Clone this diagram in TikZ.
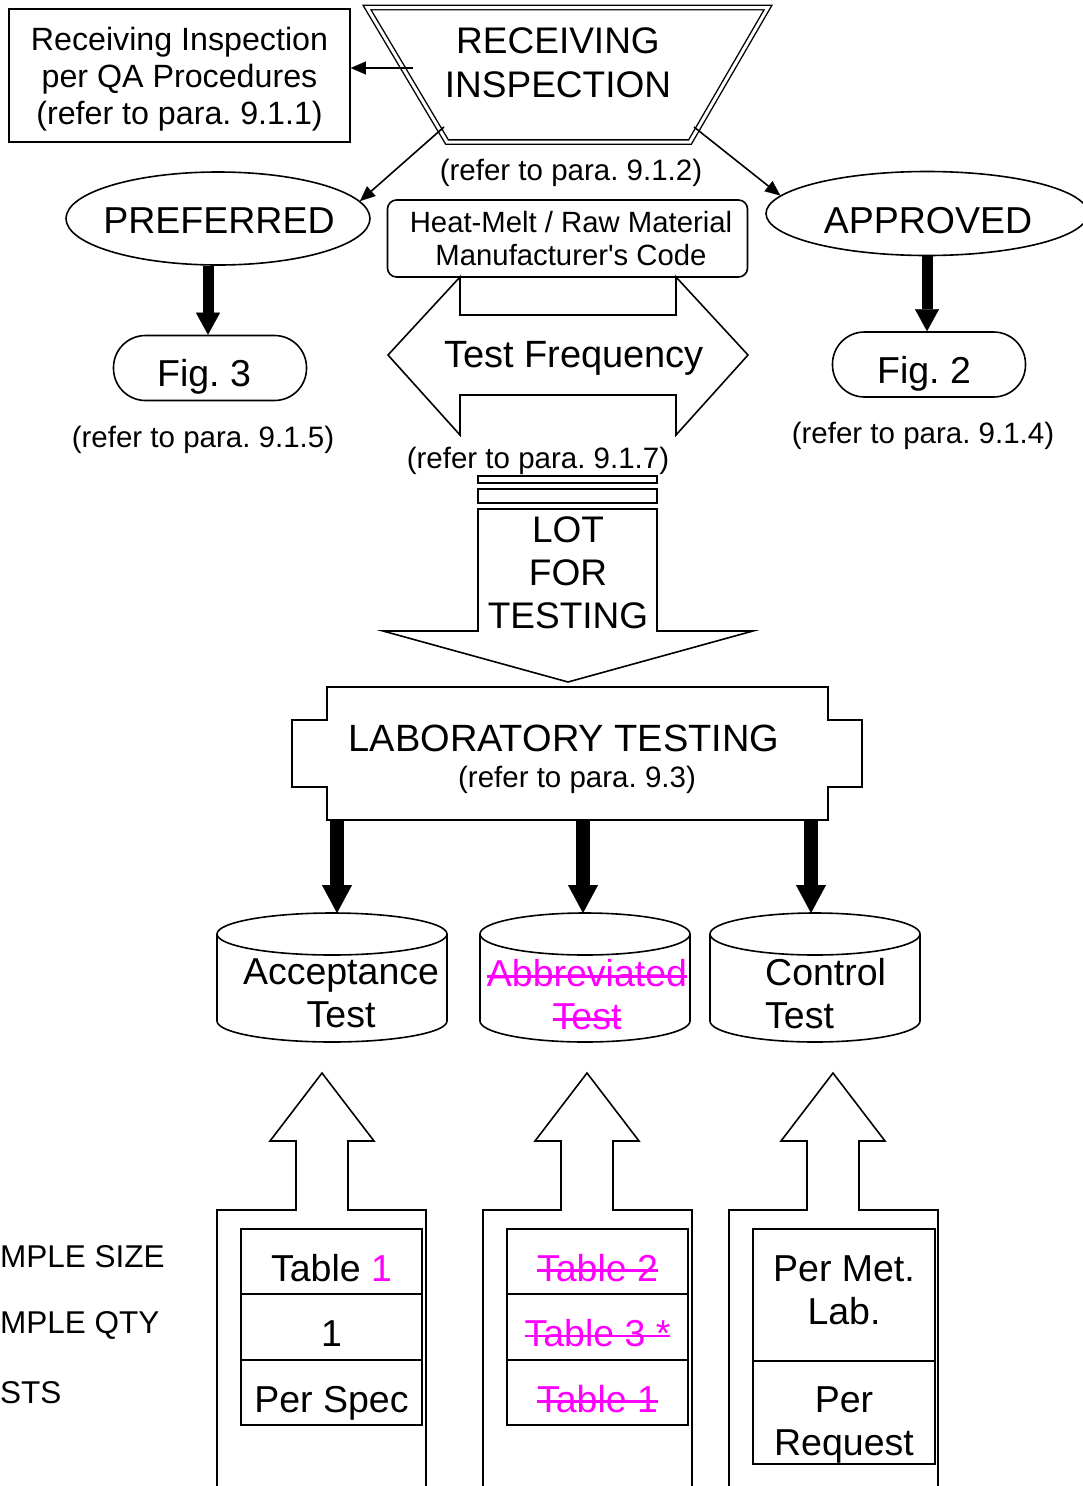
\documentclass[tikz,border=0pt]{standalone}
\usepackage{fontspec}
\setmainfont{Liberation Sans}
\usetikzlibrary{arrows.meta,shapes.geometric,positioning}

\definecolor{revmag}{RGB}{255,0,255}
\newlength{\strklen}
\newcommand{\struck}[1]{\textcolor{revmag}{\settowidth{\strklen}{#1}\rlap{#1}\rule[0.25em]{\strklen}{2.4pt}}}

\tikzset{
	outl/.style={line width=1.6pt},
	thinarrow/.style={line width=1.6pt,-{Triangle[length=15pt,width=13pt,line width=0.1pt]}},
	fatarrow/.style={line width=11pt,-{Triangle[length=22pt,width=24pt,line width=0.1pt]}},
	labarrow/.style={line width=14pt,-{Triangle[length=28pt,width=30pt,line width=0.1pt]}},
	fbig/.style={font=\fontsize{37.5}{43}\selectfont},
	fmid/.style={font=\fontsize{32.2}{37}\selectfont},
	fref/.style={font=\fontsize{29.5}{33}\selectfont},
	figbox/.style={draw,outl,rounded corners=32pt,minimum width=193pt,minimum height=65pt,fbig,text height=37pt,text depth=0pt},
	cell/.style={draw,line width=2.2pt,minimum width=181pt,minimum height=65.5pt,inner sep=0pt,fbig,text height=39pt,text depth=0pt},
}

\begin{document}
\frenchspacing
\begin{tikzpicture}[x=1pt,y=-1pt]
	\useasboundingbox (0,0) rectangle (1083,1486);
	% receiving inspection
	\draw [line width=1.4pt,double,double distance=3pt] (367,7.5) -- (768,7.5) -- (690,142) -- (447,142) -- cycle;
	\node [align=center,font=\fontsize{37}{44}\selectfont] (recv) at (558,63) {RECEIVING\\INSPECTION};
	\coordinate (recvw) at (413,68);
	\coordinate (recvsw) at (444,127);
	\coordinate (recvse) at (694,127);
	\node [draw,outl,minimum width=341pt,minimum height=133pt,align=center,fmid] (qa) at (179.5,75.5) {\rule{0pt}{31pt}Receiving Inspection\\per QA Procedures\\(refer to para. 9.1.1)};
	\draw [thinarrow] (recvw) -- (recvw -| qa.east);
	\node [fref] (ref912) at (571,173) {(refer to para. 9.1.2)};

	% preferred / approved
	\node [draw,outl,ellipse,minimum width=304pt,minimum height=93pt] (pref) at (218,218.5) {};
	\node [fbig,anchor=base] (preftxt) at (219,233) {PREFERRED};
	\node [draw,outl,ellipse,minimum width=322pt,minimum height=84pt] (appr) at (927,213.5) {};
	\node [fbig,anchor=base] (apprtxt) at (928,233) {APPROVED};
	\draw [thinarrow] (recvsw) -- (pref.7);
	\draw [thinarrow] (recvse) -- (appr.173);

	\node [figbox] (fig3) at (210,368) {Fig. 3\kern12pt};
	\node [figbox] (fig2) at (929,364.5) {Fig. 2\kern10pt};
	\draw [fatarrow] ([xshift=-10pt]pref.south) -- ([xshift=-2pt]fig3.north);
	\draw [fatarrow] (appr.south) -- (fig2.north -| appr.south);
	\node [fref] (ref915) at (203,440) {(refer to para. 9.1.5)};
	\node [fref] (ref914) at (923,436) {(refer to para. 9.1.4)};

	% heat-melt and test frequency
	\node [draw,outl,rounded corners=9pt,minimum width=360pt,minimum height=77pt,align=center,font=\fontsize{29.3}{33}\selectfont] (heat) at (567.5,238.5) {\hspace*{7pt}Heat-Melt / Raw Material\\\hspace*{7pt}Manufacturer\textquotesingle s Code};
	\draw [outl] (388,355) -- (460,277) -- (460,315) -- (676,315) -- (676,277) -- (748,355) -- (676,435) -- (676,395) -- (460,395) -- (460,435) -- cycle;
	\node [font=\fontsize{38}{44}\selectfont,anchor=base] (freq) at (574,367) {Test Frequency};
	\node [fref] (ref917) at (538,461) {(refer to para. 9.1.7)};

	% lot for testing
	\draw [outl] (478,476) rectangle (657,483);
	\draw [outl] (478,489) rectangle (657,503);
	\draw [outl] (478,509) -- (657,509) -- (657,631) -- (753,631) -- (568,682) -- (383,631) -- (478,631) -- cycle;
	\node [align=center,font=\fontsize{37}{43}\selectfont] (lot) at (568,573) {LOT\\FOR\\TESTING};

	% laboratory testing
	\draw [outl] (327,687) -- (828,687) -- (828,720) -- (862,720) -- (862,787) -- (828,787) -- (828,820) -- (327,820) -- (327,787) -- (292,787) -- (292,720) -- (327,720) -- cycle;
	\coordinate (labbot) at (577,820);
	\node [font=\fontsize{38}{44}\selectfont,anchor=base] (lab) at (564,751) {LABORATORY TESTING};
	\node [fref,anchor=base] (ref93) at (577,787) {(refer to para. 9.3)};

	% test cylinders
	\foreach \xl/\xc/\rx in {217/332/115, 480/585/105, 710/815/105} {
		\draw [outl] (\xl,934) -- (\xl,1021) arc [start angle=180,end angle=360,x radius=\rx pt,y radius=21pt] -- (\xl+2*\rx,934);
		\draw [outl] (\xc,934) ellipse [x radius=\rx pt,y radius=21pt];
	}
	\coordinate (acctop) at (337,913);
	\coordinate (abbtop) at (583,913);
	\coordinate (ctltop) at (811,913);
	\draw [labarrow] (labbot -| acctop) -- (acctop);
	\draw [labarrow] (labbot -| abbtop) -- (abbtop);
	\draw [labarrow] (labbot -| ctltop) -- (ctltop);
	\node [fbig,align=center] (acc) at (341,993) {Acceptance\\Test};
	\node [fbig,align=center] (abb) at (587,995) {\struck{Abbreviated}\\\struck{Test}};
	\node [fbig,align=left,anchor=west,inner sep=0pt] (ctl) at (765,994) {Control\\Test};

	% sample columns
	\foreach \xl/\t in {217/322, 483/587, 729/833} {
		\draw [outl] (\xl,1490) -- (\xl,1210) -- (\t-26,1210) -- (\t-26,1141) -- (\t-52,1141) -- (\t,1073) -- (\t+52,1141) -- (\t+26,1141) -- (\t+26,1210) -- (\xl+209,1210) -- (\xl+209,1490);
	}
	\node [cell] (accsize) at (331.5,1261.5) {Table \textcolor{revmag}{1}};
	\node [cell] (accqty) at (331.5,1327) {1};
	\node [cell] (acctests) at (331.5,1392.5) {Per Spec};
	\node [cell] (abbsize) at (597.5,1261.5) {\struck{Table 2}};
	\node [cell] (abbqty) at (597.5,1327) {\struck{Table 3 *}};
	\node [cell] (abbtests) at (597.5,1392.5) {\struck{Table 1}};
	\node [cell,minimum width=182pt,minimum height=132pt] (ctlsize) at (844,1295) {};
	\node [cell,minimum width=182pt,minimum height=103pt] (ctltests) at (844,1412.5) {};
	\node [fbig,align=center] (ctlsizetxt) at (844,1290.5) {Per Met.\\Lab.};
	\node [fbig,align=center] (ctltesttxt) at (844,1425) {Per\\Request};

	\node [font=\fontsize{31.5}{36}\selectfont,anchor=base west,inner sep=0pt] (lblsize) at (0,1267) {MPLE SIZE};
	\node [font=\fontsize{31.5}{36}\selectfont,anchor=base west,inner sep=0pt] (lblqty) at (0,1333) {MPLE QTY};
	\node [font=\fontsize{31.5}{36}\selectfont,anchor=base west,inner sep=0pt] (lbltests) at (0,1403) {STS};
\end{tikzpicture}
\end{document}
